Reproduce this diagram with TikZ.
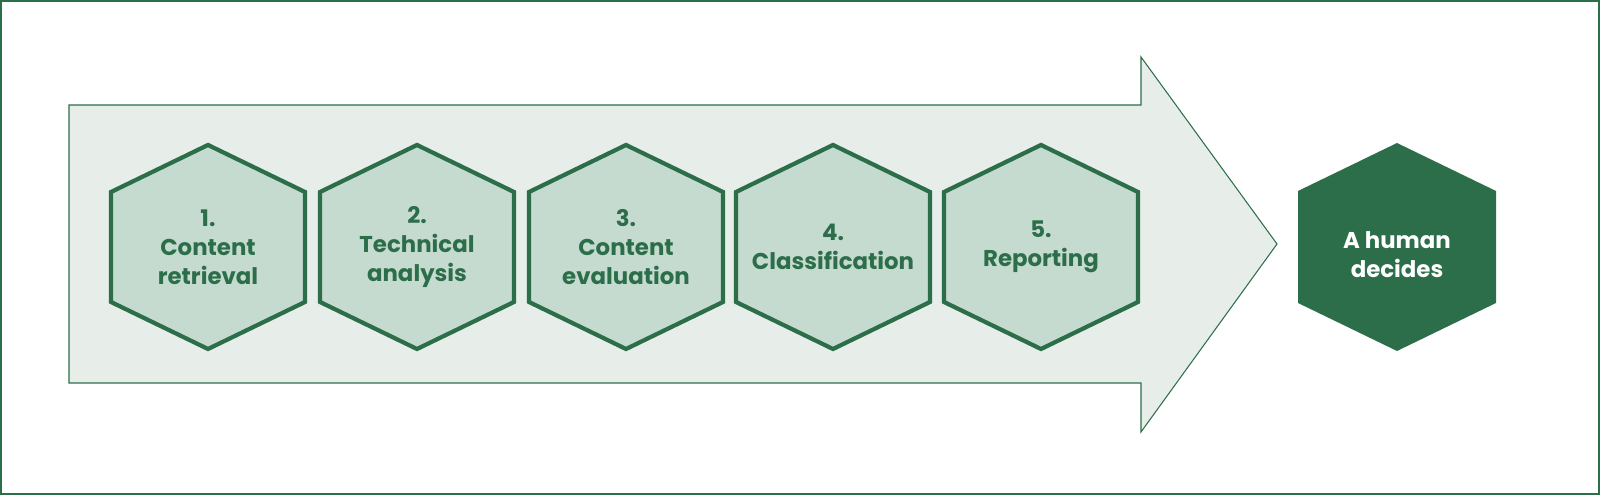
\documentclass[tikz,border=0pt]{standalone}
\usepackage{fontspec}
\setmainfont{Poppins}
\definecolor{dg}{HTML}{2D6E4A}
\definecolor{arrowfill}{HTML}{E7EEEA}
\definecolor{hexfill}{HTML}{C6DBCF}
\begin{document}
\begin{tikzpicture}[x=0.01cm,y=-0.01cm,
  lbl/.style={font=\fontsize{6.5pt}{8.3pt}\selectfont\bfseries, align=center, text=dg}]
\useasboundingbox (0,0) rectangle (1600,495);
\draw[dg, line width=0.4pt] (1,1) rectangle (1599,494);
\draw[dg, line width=0.3pt, fill=arrowfill] (69,105) -- (1141,105) -- (1141,57) -- (1277,244) -- (1141,432) -- (1141,383) -- (69,383) -- cycle;
\foreach \cx/\t [count=\i] in {208/{1.\\Content\\retrieval}, 417/{2.\\Technical\\analysis}, 626/{3.\\Content\\evaluation}, 833/{4.\\Classification}, 1041/{5.\\Reporting}}{
  \draw[dg, line width=1.2pt, fill=hexfill] (\cx,145) -- (\cx+97,192) -- (\cx+97,302) -- (\cx,349) -- (\cx-97,302) -- (\cx-97,192) -- cycle;
  \node[lbl] (h\i) at (\cx,247) {\t};
}
\fill[dg] (1397,143) -- (1496,191) -- (1496,303) -- (1397,351) -- (1298,303) -- (1298,191) -- cycle;
\node[lbl, text=white] (hum) at (1397,255) {A human\\decides};
\end{tikzpicture}
\end{document}
